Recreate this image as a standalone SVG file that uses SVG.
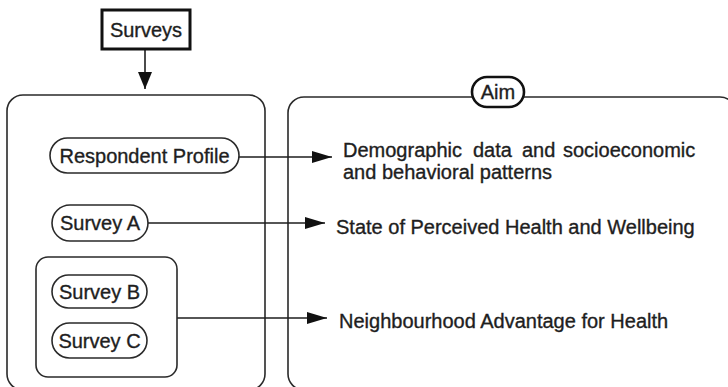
<svg xmlns="http://www.w3.org/2000/svg" width="728" height="387" viewBox="0 0 728 387">
<defs>
<style>
text{font-family:"Liberation Sans",Arial,sans-serif;font-size:20px;fill:#1e1e1e;stroke:#1e1e1e;stroke-width:0.35}
.c{text-anchor:middle}
.box{fill:none;stroke:#2a2a2a;stroke-width:1.6}
.pill{fill:#fff;stroke:#2a2a2a;stroke-width:1.6}
.ln{stroke:#1e1e1e;stroke-width:1.6;fill:none}
</style>
<marker id="ah" viewBox="0 0 20 12" refX="20" refY="6" markerWidth="20" markerHeight="12" markerUnits="userSpaceOnUse" orient="auto">
<path d="M0,0 L20,6 L0,12 Z" fill="#111"/>
</marker>
<marker id="ahd" viewBox="0 0 17 14" refX="17" refY="7" markerWidth="17" markerHeight="14" markerUnits="userSpaceOnUse" orient="auto">
<path d="M0,0 L17,7 L0,14 Z" fill="#111"/>
</marker>
</defs>
<rect x="0" y="0" width="728" height="387" fill="#fff"/>
<g id="left-panel"><rect class="box" x="7" y="95" width="258" height="295" rx="16"/></g>
<g id="right-panel"><rect class="box" x="288" y="97" width="448" height="293" rx="16"/></g>
<g id="connectors">
<path class="ln" d="M145,49 V89" marker-end="url(#ahd)"/>
<path class="ln" d="M239,157 H332" marker-end="url(#ah)"/>
<path class="ln" d="M148,223 H325" marker-end="url(#ah)"/>
<path class="ln" d="M177,318 H327" marker-end="url(#ah)"/>
</g>
<g id="surveys"><rect x="102" y="10" width="88" height="39" fill="#fff" stroke="#111" stroke-width="3"/><text class="c" x="146" y="37">Surveys</text></g>
<g id="respondent-profile"><rect class="pill" x="50" y="138" width="189" height="35" rx="17.5"/><text class="c" x="144.5" y="163">Respondent Profile</text></g>
<g id="survey-a"><rect class="pill" x="52" y="205" width="96" height="36" rx="18"/><text class="c" x="100" y="230">Survey A</text></g>
<g id="survey-group"><rect class="box" x="36" y="257" width="141" height="120" rx="12"/></g>
<g id="survey-b"><rect class="pill" x="52" y="275" width="95" height="33" rx="16.5"/><text class="c" x="99.5" y="299">Survey B</text></g>
<g id="survey-c"><rect class="pill" x="52" y="323" width="95" height="35" rx="17.5"/><text class="c" x="99.5" y="348">Survey C</text></g>
<g id="aim"><rect x="472" y="77" width="52" height="30" rx="15" fill="#fff" stroke="#111" stroke-width="2.6"/><text class="c" x="498" y="99">Aim</text></g>
<g id="aim-demographic"><text y="157"><tspan x="343">Demographic</tspan><tspan x="473">data</tspan><tspan x="522">and</tspan><tspan x="563">socioeconomic</tspan></text><text x="343" y="179">and behavioral patterns</text></g>
<g id="aim-health"><text x="336" y="234">State of Perceived Health and Wellbeing</text></g>
<g id="aim-neighbourhood"><text x="339" y="328">Neighbourhood Advantage for Health</text></g>
</svg>
